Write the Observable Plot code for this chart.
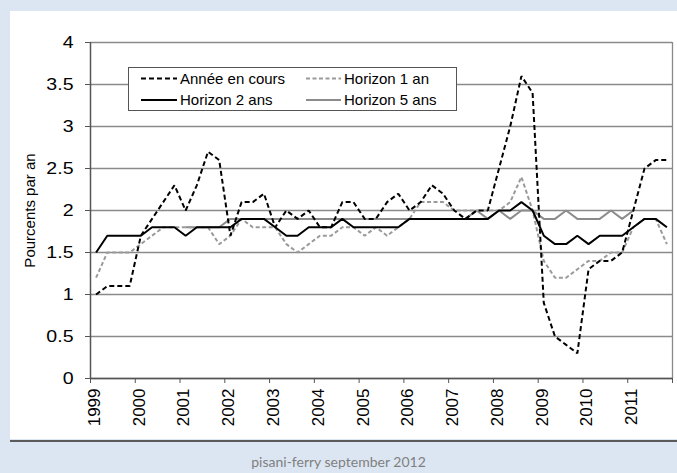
<!DOCTYPE html>
<html>
<head>
<meta charset="utf-8">
<script src="https://cdn.jsdelivr.net/npm/d3@7"></script>
<script src="https://cdn.jsdelivr.net/npm/@observablehq/plot@0.6"></script>
<style>
  html, body { margin: 0; padding: 0; }
  body { width: 677px; height: 473px; background: #dce6f2; position: relative; overflow: hidden; font-family: "Liberation Sans", Arial, sans-serif; }
  #panel { position: absolute; left: 10px; top: 11px; width: 667px; height: 428px; background: #fff; }
  #rule { position: absolute; left: 10px; top: 440px; width: 667px; height: 1.5px; background: #5a5a5a; }
  #caption { position: absolute; left: 0; width: 677px; top: 453px; text-align: center; font-family: Lato, "Open Sans", sans-serif; font-size: 14px; color: #7f7f7f; }
  #legend { position: absolute; left: 128px; top: 67px; width: 327px; height: 42px; border: 1px solid #555; background: #fff; }
</style>
</head>
<body>
<div id="panel"></div>
<div id="rule"></div>
<div id="legend"></div>
<div id="caption">pisani-ferry september 2012</div>
<script>
// Tick labels (years) and quarterly data, 1999Q1 .. 2011Q4
const years = [1999, 2000, 2001, 2002, 2003, 2004, 2005, 2006, 2007, 2008, 2009, 2010, 2011, 2012];
const yTicks = [0, 0.5, 1, 1.5, 2, 2.5, 3, 3.5, 4];
const seriesNames = ["Année en cours", "Horizon 1 an", "Horizon 2 ans", "Horizon 5 ans"];

const anneeEnCours = [1.0, 1.1, 1.1, 1.1, 1.7, 1.9, 2.1, 2.3, 2.0, 2.3, 2.7, 2.6,
  1.7, 2.1, 2.1, 2.2, 1.8, 2.0, 1.9, 2.0, 1.8, 1.8, 2.1, 2.1,
  1.9, 1.9, 2.1, 2.2, 2.0, 2.1, 2.3, 2.2, 2.0, 1.9, 2.0, 2.0,
  2.5, 3.0, 3.6, 3.4, 0.9, 0.5, 0.4, 0.3, 1.3, 1.4, 1.4, 1.5,
  2.0, 2.5, 2.6, 2.6];
const horizon1an = [1.2, 1.5, 1.5, 1.5, 1.6, 1.7, 1.8, 1.8, 1.8, 1.8, 1.8, 1.6,
  1.7, 1.9, 1.8, 1.8, 1.8, 1.6, 1.5, 1.6, 1.7, 1.7, 1.8, 1.8,
  1.7, 1.8, 1.7, 1.8, 1.9, 2.1, 2.1, 2.1, 2.0, 2.0, 2.0, 2.0,
  2.0, 2.1, 2.4, 2.0, 1.4, 1.2, 1.2, 1.3, 1.4, 1.4, 1.5, 1.5,
  1.8, 1.9, 1.9, 1.6];
const horizon2ans = [1.5, 1.7, 1.7, 1.7, 1.7, 1.8, 1.8, 1.8, 1.7, 1.8, 1.8, 1.8,
  1.8, 1.9, 1.9, 1.9, 1.8, 1.7, 1.7, 1.8, 1.8, 1.8, 1.9, 1.8,
  1.8, 1.8, 1.8, 1.8, 1.9, 1.9, 1.9, 1.9, 1.9, 1.9, 1.9, 1.9,
  2.0, 2.0, 2.1, 2.0, 1.7, 1.6, 1.6, 1.7, 1.6, 1.7, 1.7, 1.7,
  1.8, 1.9, 1.9, 1.8];
const horizon5ans = [null, null, null, null, null, null, null, null, 1.8, 1.8, 1.8, 1.8,
  1.9, 1.9, 1.9, 1.9, 1.9, 1.9, 1.9, 1.9, 1.9, 1.9, 1.9, 1.9,
  1.9, 1.9, 1.9, 1.9, 1.9, 1.9, 1.9, 1.9, 1.9, 1.9, 2.0, 1.9,
  2.0, 1.9, 2.0, 2.0, 1.9, 1.9, 2.0, 1.9, 1.9, 1.9, 2.0, 1.9,
  2.0, null, null, null];

const styles = {
  "Année en cours": {stroke: "#000", strokeWidth: 2, strokeDasharray: "5,3"},
  "Horizon 1 an": {stroke: "#9a9a9a", strokeWidth: 2, strokeDasharray: "4,2.5"},
  "Horizon 2 ans": {stroke: "#000", strokeWidth: 2},
  "Horizon 5 ans": {stroke: "#8c8c8c", strokeWidth: 2}
};

const toRows = (arr) => arr.map((v, i) => ({t: 1999 + (i + 0.5) / 4, v})).filter(d => d.v != null);
const seriesData = {
  "Année en cours": toRows(anneeEnCours),
  "Horizon 1 an": toRows(horizon1an),
  "Horizon 2 ans": toRows(horizon2ans),
  "Horizon 5 ans": toRows(horizon5ans)
};
const drawOrder = ["Horizon 5 ans", "Horizon 1 an", "Horizon 2 ans", "Année en cours"];

const chart = Plot.plot({
  width: 667,
  height: 428,
  marginLeft: 80,
  marginTop: 31,
  marginRight: 5,
  marginBottom: 61,
  style: {fontFamily: "'Liberation Sans', Arial, sans-serif", fontSize: "16px", color: "#000", background: "transparent", overflow: "visible"},
  x: {domain: [years[0], years[years.length - 1]], label: null},
  y: {domain: [yTicks[0], yTicks[yTicks.length - 1]], label: null},
  marks: [
    Plot.gridY(yTicks, {stroke: "#8a8a8a", strokeOpacity: 1, strokeWidth: 1.3}),
    Plot.ruleX([years[years.length - 1]], {stroke: "#8a8a8a", strokeWidth: 1.3}),
    Plot.axisY(yTicks, {tickSize: 5, tickPadding: 12, tickFormat: d => String(d), stroke: "#555",
      label: "Pourcents par an", labelAnchor: "center", labelArrow: "none", labelOffset: 66}),
    Plot.axisX(years, {tickSize: 5, tickPadding: 5, tickRotate: -90, stroke: "#555",
      tickFormat: d => d === years[years.length - 1] ? "" : String(d), label: null}),
    Plot.ruleX([years[0]], {stroke: "#555", strokeWidth: 1.5}),
    Plot.ruleY([yTicks[0]], {stroke: "#555", strokeWidth: 1.5}),
    ...drawOrder.map(name => Plot.line(seriesData[name], {x: "t", y: "v", ...styles[name], strokeLinejoin: "miter", strokeLinecap: "butt"}))
  ]
});
// y-axis label slightly smaller than tick labels; tick labels slightly larger/wider as in the source
chart.querySelectorAll("[aria-label='y-axis label'] text").forEach(t => t.setAttribute("font-size", "15"));
chart.querySelectorAll("[aria-label='y-axis tick label'] text").forEach(t => {
  t.setAttribute("font-size", "17");
  t.setAttribute("transform", (t.getAttribute("transform") || "") + " scale(1.15,1)");
});
chart.querySelectorAll("[aria-label='x-axis tick label'] text").forEach(t => {
  t.setAttribute("font-size", "17");
  t.setAttribute("transform", "translate(4,0) " + (t.getAttribute("transform") || ""));
});
document.getElementById("panel").appendChild(chart);

// Legend (drawn as HTML/SVG overlay, content from the named arrays)
const ns = "http://www.w3.org/2000/svg";
const lg = document.createElementNS(ns, "svg");
lg.setAttribute("width", 327); lg.setAttribute("height", 42);
const cols = [{x0: 12, x1: 48, tx: 51}, {x0: 177, x1: 212, tx: 215}];
const rows = [10.5, 32];
const legendOrder = [["Année en cours", 0, 0], ["Horizon 1 an", 1, 0], ["Horizon 2 ans", 0, 1], ["Horizon 5 ans", 1, 1]];
legendOrder.forEach(([name, c, r]) => {
  const s = styles[name];
  const l = document.createElementNS(ns, "line");
  l.setAttribute("x1", cols[c].x0); l.setAttribute("x2", cols[c].x1);
  l.setAttribute("y1", rows[r]); l.setAttribute("y2", rows[r]);
  l.setAttribute("stroke", s.stroke); l.setAttribute("stroke-width", s.strokeWidth);
  if (s.strokeDasharray) l.setAttribute("stroke-dasharray", s.strokeDasharray);
  lg.appendChild(l);
  const t = document.createElementNS(ns, "text");
  t.setAttribute("x", cols[c].tx); t.setAttribute("y", rows[r]);
  t.setAttribute("dy", "0.35em");
  t.setAttribute("font-size", "15");
  t.setAttribute("font-family", "'Liberation Sans', Arial, sans-serif");
  t.textContent = name;
  lg.appendChild(t);
});
document.getElementById("legend").appendChild(lg);
</script>
</body>
</html>
